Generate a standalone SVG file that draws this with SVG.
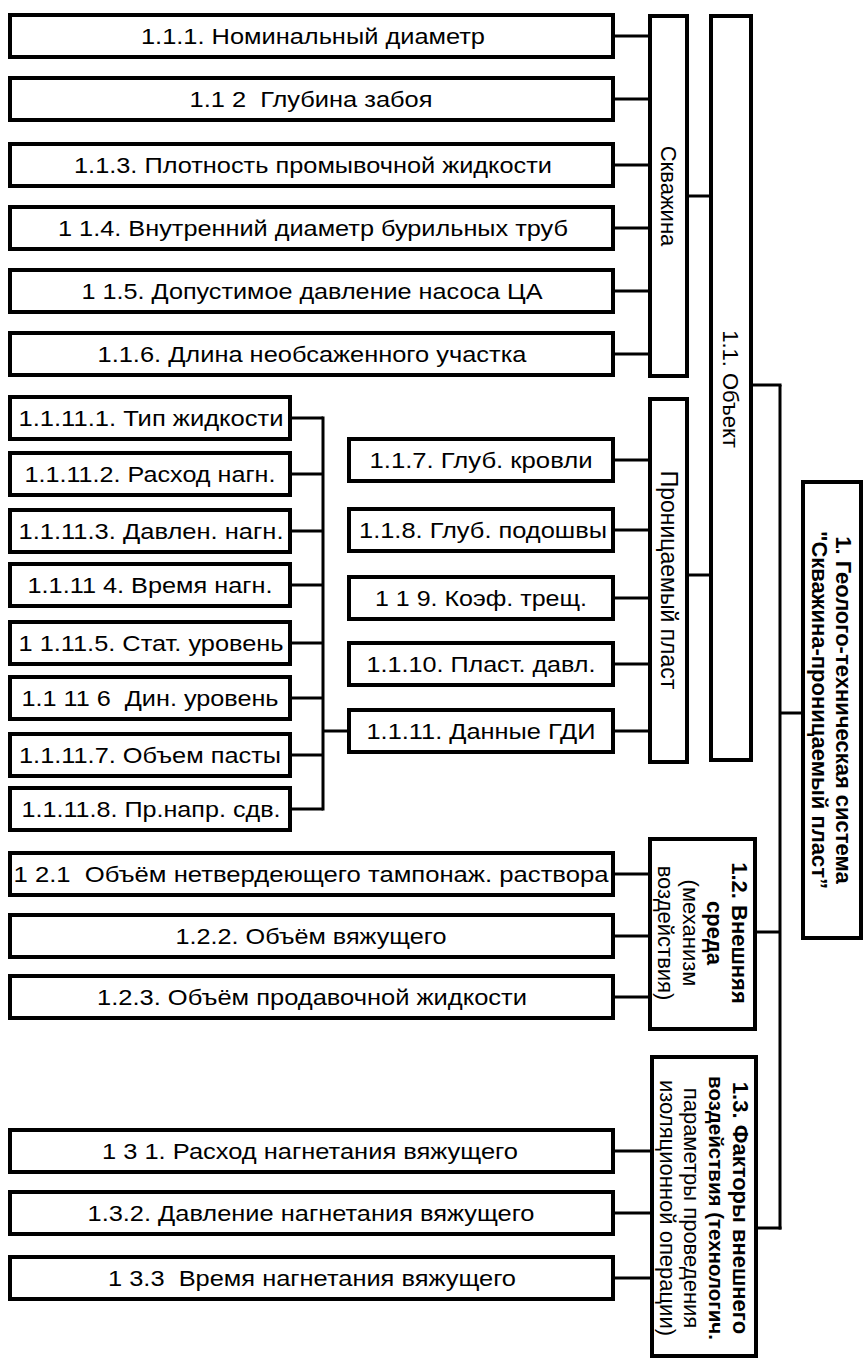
<svg xmlns="http://www.w3.org/2000/svg" width="865" height="1360" viewBox="0 0 865 1360">
<style>
rect{fill:#fff;stroke:#000;stroke-width:4}
.c line, .c path{stroke:#000;stroke-width:3;fill:none}
text{font-family:"Liberation Sans",Arial,sans-serif;font-size:22px;fill:#000;white-space:pre}
.h{text-anchor:middle}
.v{text-anchor:middle}
.b{font-weight:bold}
</style>
<rect x="0" y="0" width="865" height="1360" style="stroke:none"/>
<g class="c" id="connectors">
<line x1="613" y1="36" x2="650" y2="36"/>
<line x1="613" y1="99" x2="650" y2="99"/>
<line x1="613" y1="165" x2="650" y2="165"/>
<line x1="613" y1="228" x2="650" y2="228"/>
<line x1="613" y1="291" x2="650" y2="291"/>
<line x1="613" y1="354" x2="650" y2="354"/>
<line x1="687" y1="196" x2="711" y2="196"/>
<line x1="290" y1="418" x2="323" y2="418"/>
<line x1="290" y1="474" x2="323" y2="474"/>
<line x1="290" y1="531" x2="323" y2="531"/>
<line x1="290" y1="585" x2="323" y2="585"/>
<line x1="290" y1="643" x2="323" y2="643"/>
<line x1="290" y1="698" x2="323" y2="698"/>
<line x1="290" y1="755" x2="323" y2="755"/>
<line x1="290" y1="809" x2="323" y2="809"/>
<line x1="323" y1="416.5" x2="323" y2="810.5"/>
<line x1="323" y1="731" x2="349" y2="731"/>
<line x1="613" y1="460" x2="650" y2="460"/>
<line x1="613" y1="530" x2="650" y2="530"/>
<line x1="613" y1="598" x2="650" y2="598"/>
<line x1="613" y1="664" x2="650" y2="664"/>
<line x1="613" y1="731" x2="650" y2="731"/>
<line x1="687" y1="575" x2="711" y2="575"/>
<line x1="751" y1="385" x2="781.5" y2="385"/>
<line x1="780" y1="385" x2="780" y2="1229.5"/>
<line x1="780" y1="713" x2="803" y2="713"/>
<line x1="613" y1="874" x2="650" y2="874"/>
<line x1="613" y1="936" x2="650" y2="936"/>
<line x1="613" y1="997" x2="650" y2="997"/>
<line x1="755" y1="932" x2="780" y2="932"/>
<line x1="613" y1="1151" x2="652" y2="1151"/>
<line x1="613" y1="1213" x2="652" y2="1213"/>
<line x1="613" y1="1278" x2="652" y2="1278"/>
<line x1="756" y1="1228" x2="781.5" y2="1228"/>
</g>
<g id="n111"><rect x="10" y="15" width="603" height="42"/><text class="h" x="313" y="44" textLength="344" lengthAdjust="spacingAndGlyphs">1.1.1. Номинальный диаметр</text></g>
<g id="n112"><rect x="10" y="78" width="603" height="42"/><text class="h" x="311" y="107" textLength="243" lengthAdjust="spacingAndGlyphs">1.1 2  Глубина забоя</text></g>
<g id="n113"><rect x="10" y="144" width="603" height="42"/><text class="h" x="313" y="173" textLength="478" lengthAdjust="spacingAndGlyphs">1.1.3. Плотность промывочной жидкости</text></g>
<g id="n114"><rect x="10" y="207" width="603" height="42"/><text class="h" x="313" y="236" textLength="510" lengthAdjust="spacingAndGlyphs">1 1.4. Внутренний диаметр бурильных труб</text></g>
<g id="n115"><rect x="10" y="270" width="603" height="42"/><text class="h" x="312" y="299" textLength="461" lengthAdjust="spacingAndGlyphs">1 1.5. Допустимое давление насоса ЦА</text></g>
<g id="n116"><rect x="10" y="333" width="603" height="42"/><text class="h" x="312" y="362" textLength="429" lengthAdjust="spacingAndGlyphs">1.1.6. Длина необсаженного участка</text></g>
<g id="skv"><rect x="650" y="16" width="37" height="360"/><text class="v" transform="translate(669,196) rotate(90)" x="0" y="8">Скважина</text></g>
<g id="obj"><rect x="711" y="16" width="40" height="744"/><text class="v" transform="translate(731,389) rotate(90)" x="0" y="8">1.1. Объект</text></g>
<g id="pp"><rect x="650" y="399" width="37" height="363"/><text class="v" transform="translate(669,580) rotate(90)" x="0" y="8" style="font-size:23px">Проницаемый пласт</text></g>
<g id="n11111"><rect x="10" y="397" width="280" height="42"/><text class="h" x="151" y="426" textLength="265" lengthAdjust="spacingAndGlyphs">1.1.11.1. Тип жидкости</text></g>
<g id="n11112"><rect x="10" y="453" width="280" height="42"/><text class="h" x="150" y="482" textLength="251" lengthAdjust="spacingAndGlyphs">1.1.11.2. Расход нагн.</text></g>
<g id="n11113"><rect x="10" y="510" width="280" height="42"/><text class="h" x="151" y="539" textLength="265" lengthAdjust="spacingAndGlyphs">1.1.11.3. Давлен. нагн.</text></g>
<g id="n11114"><rect x="10" y="564" width="280" height="42"/><text class="h" x="150" y="593" textLength="245" lengthAdjust="spacingAndGlyphs">1.1.11 4. Время нагн.</text></g>
<g id="n11115"><rect x="10" y="622" width="280" height="42"/><text class="h" x="151" y="651" textLength="265" lengthAdjust="spacingAndGlyphs">1 1.11.5. Стат. уровень</text></g>
<g id="n11116"><rect x="10" y="677" width="280" height="42"/><text class="h" x="150" y="706" textLength="257" lengthAdjust="spacingAndGlyphs">1.1 11 6  Дин. уровень</text></g>
<g id="n11117"><rect x="10" y="734" width="280" height="42"/><text class="h" x="150" y="763" textLength="262" lengthAdjust="spacingAndGlyphs">1.1.11.7. Объем пасты</text></g>
<g id="n11118"><rect x="10" y="788" width="280" height="42"/><text class="h" x="151" y="817" textLength="259" lengthAdjust="spacingAndGlyphs">1.1.11.8. Пр.напр. сдв.</text></g>
<g id="n117"><rect x="349" y="439" width="264" height="42"/><text class="h" x="481" y="468" textLength="223" lengthAdjust="spacingAndGlyphs">1.1.7. Глуб. кровли</text></g>
<g id="n118"><rect x="349" y="509" width="264" height="42"/><text class="h" x="483" y="538" textLength="248" lengthAdjust="spacingAndGlyphs">1.1.8. Глуб. подошвы</text></g>
<g id="n119"><rect x="349" y="577" width="264" height="42"/><text class="h" x="481" y="606" textLength="212" lengthAdjust="spacingAndGlyphs">1 1 9. Коэф. трещ.</text></g>
<g id="n1110"><rect x="349" y="643" width="264" height="42"/><text class="h" x="481" y="672" textLength="229" lengthAdjust="spacingAndGlyphs">1.1.10. Пласт. давл.</text></g>
<g id="n1111"><rect x="349" y="710" width="264" height="42"/><text class="h" x="481" y="739" textLength="229" lengthAdjust="spacingAndGlyphs">1.1.11. Данные ГДИ</text></g>
<g id="root"><rect x="803" y="482" width="58" height="456"/><text class="v b" transform="translate(832,710) rotate(90)"><tspan x="0" y="-4">1. Геолого-техническая система</tspan><tspan x="0" y="20">"Скважина-проницаемый пласт”</tspan></text></g>
<g id="n121"><rect x="10" y="853" width="603" height="42"/><text class="h" x="311" y="882" textLength="595" lengthAdjust="spacingAndGlyphs">1 2.1  Объём нетвердеющего тампонаж. раствора</text></g>
<g id="n122"><rect x="10" y="915" width="603" height="42"/><text class="h" x="311" y="944" textLength="271" lengthAdjust="spacingAndGlyphs">1.2.2. Объём вяжущего</text></g>
<g id="n123"><rect x="10" y="976" width="603" height="42"/><text class="h" x="312" y="1005" textLength="430" lengthAdjust="spacingAndGlyphs">1.2.3. Объём продавочной жидкости</text></g>
<g id="n12"><rect x="650" y="839" width="105" height="190"/><text class="v" transform="translate(702.5,933) rotate(90)"><tspan class="b" x="0" y="-29">1.2. Внешняя</tspan><tspan class="b" x="0" y="-4.5">среда</tspan><tspan x="0" y="20">(механизм</tspan><tspan x="0" y="44.5">воздействия)</tspan></text></g>
<g id="n131"><rect x="10" y="1130" width="603" height="42"/><text class="h" x="310" y="1159" textLength="416" lengthAdjust="spacingAndGlyphs">1 3 1. Расход нагнетания вяжущего</text></g>
<g id="n132"><rect x="10" y="1192" width="603" height="42"/><text class="h" x="311" y="1221" textLength="447" lengthAdjust="spacingAndGlyphs">1.3.2. Давление нагнетания вяжущего</text></g>
<g id="n133"><rect x="10" y="1257" width="603" height="42"/><text class="h" x="312" y="1286" textLength="408" lengthAdjust="spacingAndGlyphs">1 3.3  Время нагнетания вяжущего</text></g>
<g id="n13"><rect x="652" y="1057" width="104" height="299"/><text class="v" transform="translate(704,1208) rotate(90)"><tspan class="b" x="0" y="-29">1.3. Факторы внешнего</tspan><tspan class="b" x="0" y="-4.5" style="font-size:20.5px">воздействия (технологич.</tspan><tspan x="0" y="20">параметры проведения</tspan><tspan x="0" y="44.5">изоляционной операции)</tspan></text></g>
</svg>
